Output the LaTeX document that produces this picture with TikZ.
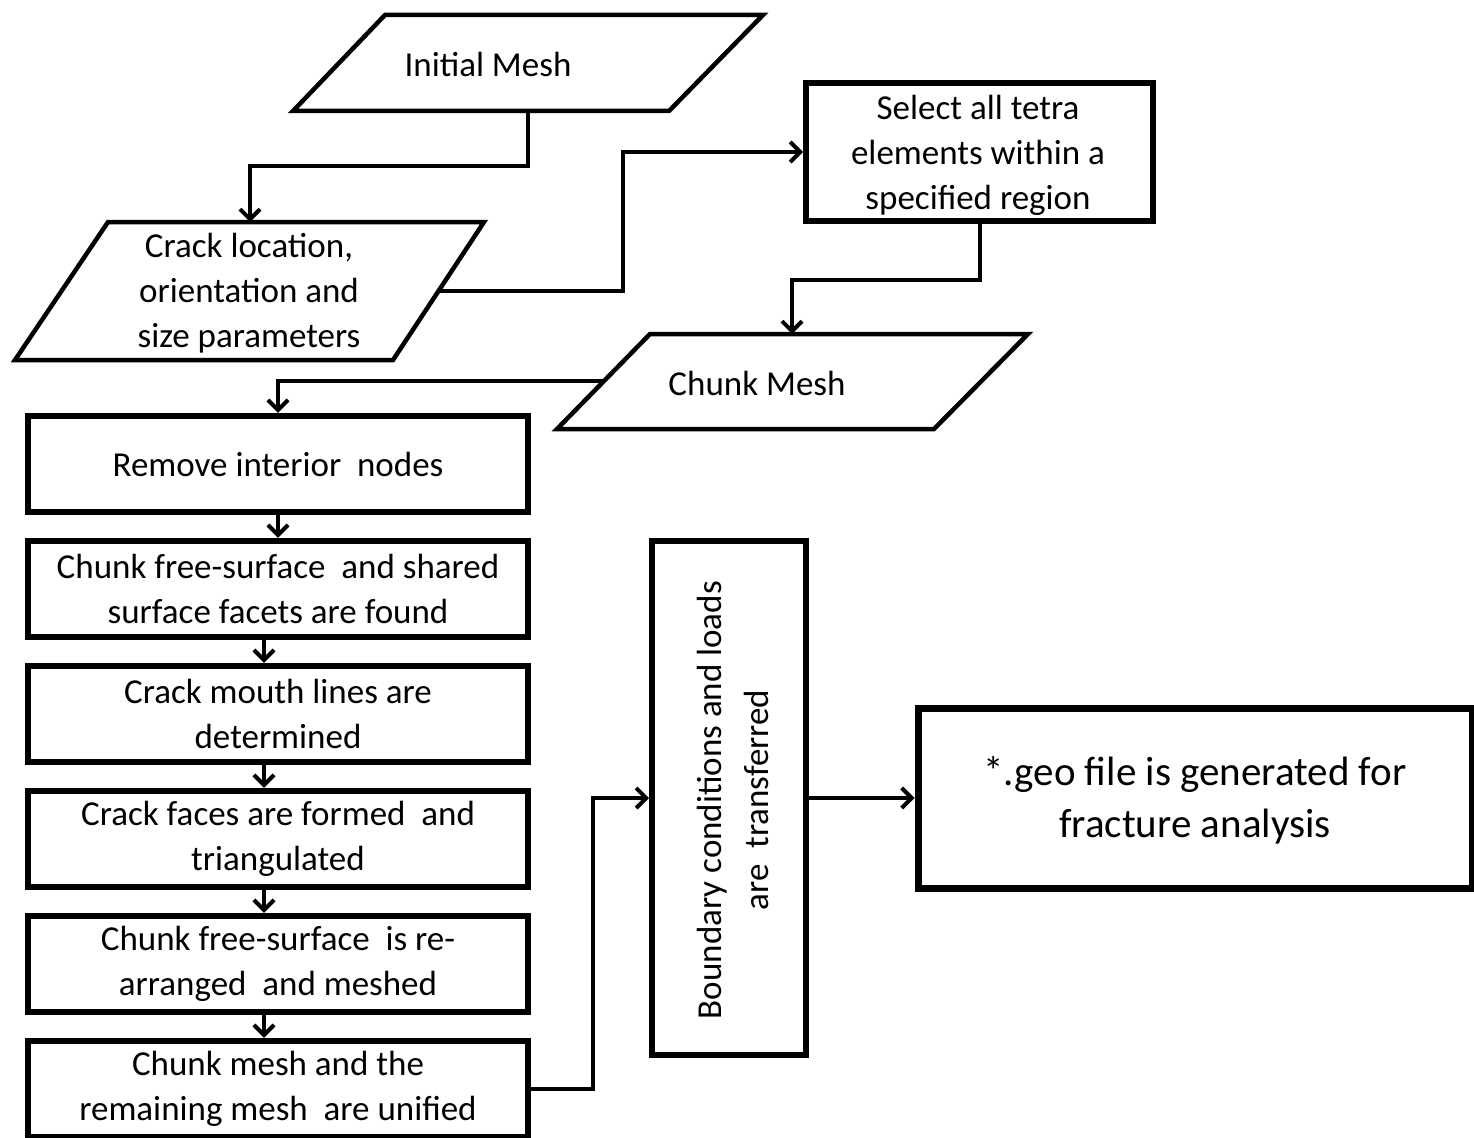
\documentclass[tikz,border=0pt]{standalone}
\usepackage{fontspec}
\setmainfont{Carlito}
\usetikzlibrary{arrows.meta}
\newcommand\fsmain{\fontsize{35}{45}\selectfont}
\newcommand\fsgeo{\fontsize{41}{52}\selectfont}
\begin{document}
\begin{tikzpicture}[x=1pt,y=-1pt,
  arr/.style={line width=4pt,-{Straight Barb[length=10pt,width=20pt,line width=4pt]}},
  para/.style={line width=4.5pt,line join=miter},
  txt/.style={align=center,inner sep=0pt,font=\fsmain},
  stepbox/.style={draw,line width=6.5pt,minimum width=500pt,minimum height=96pt,align=center,inner sep=0pt,font=\fsmain},
  plainbox/.style={draw,line width=6pt,inner sep=0pt,align=center,font=\fsmain}]
\useasboundingbox (0,0) rectangle (1474,1137);

% Initial Mesh
\draw[para] (385,15) -- (763,15) -- (669,111) -- (293,111) -- cycle;
\coordinate (imS) at (528,111);
\node[txt] (im) at (488,64) {Initial Mesh};

% Crack parameters
\draw[para] (108,222) -- (484,222) -- (393,360) -- (15,360) -- cycle;
\coordinate (crN) at (250,222);
\coordinate (crE) at (438.5,291);
\node[txt] (cr) at (249,293) {Crack location,\\orientation and\\size parameters};

% Select
\node[plainbox,minimum width=347pt,minimum height=138pt] (sel) at (979.5,152) {};
\node[txt] (selt) at (978,155) {Select all tetra\\elements within a\\specified region};

% Chunk Mesh
\draw[para] (650,334) -- (1028,334) -- (934,429) -- (557,429) -- cycle;
\coordinate (cmN) at (792,334);
\coordinate (cmW) at (604,381);
\node[txt] (cm) at (757,383) {Chunk Mesh};

% stacked steps
\node[stepbox] (b1) at (278,464) {Remove interior\ \ nodes};
\node[stepbox] (b2) at (278,589) {Chunk free-surface\ \ and shared\\surface facets are found};
\node[stepbox] (b3) at (278,714) {Crack mouth lines are\\determined};
\node[stepbox] (b4) at (278,839) {Crack faces are formed\ \ and\\triangulated};
\node[stepbox] (b5) at (278,964) {Chunk free-surface\ \ is re-\\arranged\ \ and meshed};
\node[stepbox] (b6) at (278,1089) {Chunk mesh and the\\remaining mesh\ \ are unified};

% Boundary conditions
\node[plainbox,minimum width=154pt,minimum height=514pt] (bc) at (729,798) {};
\node[txt,rotate=90,font=\fontsize{35}{47}\selectfont] (bct) at (733,800) {Boundary conditions and loads\\are\ \ transferred};

% geo file
\node[draw,line width=7pt,minimum width=554pt,minimum height=180pt,align=center,inner sep=0pt] (geo) at (1195,798) {};
\node[align=center,inner sep=0pt,font=\fsgeo] (geot) at (1195,800) {*.geo file is generated for\\fracture analysis};

% connectors
\draw[arr] (imS) -- ++(0,55) -| (crN);
\draw[arr] (crE) -- ++(184,0) |- (sel.west);
\draw[arr] (sel.south) -- ++(0,56) -| (cmN);
\draw[arr] (cmW) -| (b1.north);
\draw[arr] (b1.south) -- (b2.north);
\draw[arr] ([xshift=-14pt]b2.south) -- ([xshift=-14pt]b3.north);
\draw[arr] ([xshift=-14pt]b3.south) -- ([xshift=-14pt]b4.north);
\draw[arr] ([xshift=-14pt]b4.south) -- ([xshift=-14pt]b5.north);
\draw[arr] ([xshift=-14pt]b5.south) -- ([xshift=-14pt]b6.north);
\draw[arr] (b6.east) -- ++(62,0) |- (bc.west);
\draw[arr] (bc.east) -- (geo.west);
\end{tikzpicture}
\end{document}
